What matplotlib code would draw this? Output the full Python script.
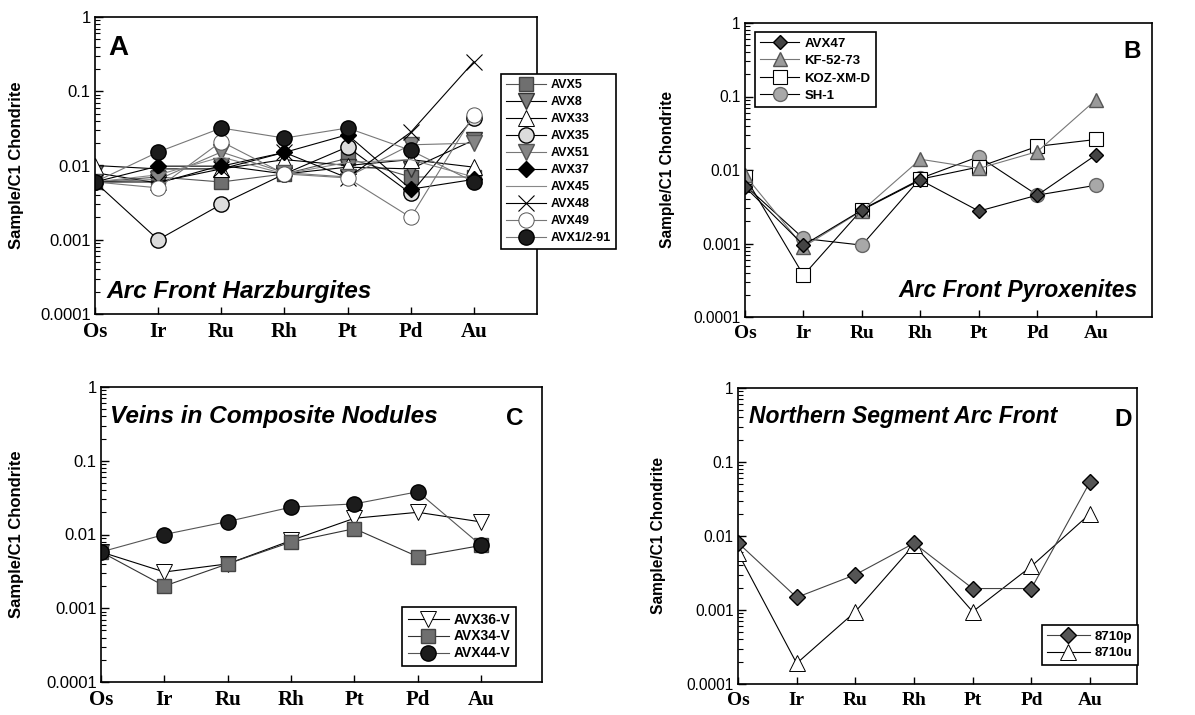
import matplotlib
matplotlib.use("Agg")
import matplotlib.pyplot as plt
from matplotlib.ticker import LogLocator, NullFormatter

W, H = 1195, 715

elements = ["Os", "Ir", "Ru", "Rh", "Pt", "Pd", "Au"]
yticks = [0.0001, 0.001, 0.01, 0.1, 1]
ytick_labels = ["0.0001", "0.001", "0.01", "0.1", "1"]

# A - arc front harzburgites
avx5 = [0.006, 0.007, 0.006, 0.0077, 0.0125, 0.007, 0.007]
avx8 = [0.008, 0.0058, 0.010, 0.0077, 0.0095, 0.009, 0.022]
avx33 = [0.010, 0.009, 0.009, 0.012, 0.010, 0.012, 0.0095]
avx35 = [0.006, 0.001, 0.003, 0.0077, 0.0178, 0.0042, 0.044]
avx51 = [0.006, 0.0065, 0.0152, 0.008, 0.007, 0.019, 0.020]
avx37 = [0.006, 0.0098, 0.0098, 0.015, 0.026, 0.0048, 0.0065]
avx45 = [0.006, 0.0075, 0.013, 0.0077, 0.011, 0.012, 0.007]
avx48 = [0.006, 0.006, 0.009, 0.015, 0.0068, 0.028, 0.25]
avx49 = [0.006, 0.005, 0.021, 0.0077, 0.0068, 0.002, 0.048]
avx1_2_91 = [0.006, 0.0152, 0.032, 0.0234, 0.032, 0.016, 0.006]

# B - arc front pyroxenites
avx47 = [0.0059, 0.00095, 0.00285, 0.0073, 0.00276, 0.00455, 0.016]
kf_52_73 = [0.0085, 0.0009, 0.0028, 0.014, 0.0105, 0.0178, 0.09]
koz_xm_d = [0.0081, 0.00037, 0.0029, 0.0075, 0.011, 0.021, 0.026]
sh_1 = [0.0062, 0.00117, 0.00095, 0.0077, 0.0152, 0.00455, 0.0062]

# C - veins in composite nodules
avx36_v = [0.0058, 0.0031, 0.004, 0.0083, 0.0166, 0.020, 0.0148]
avx34_v = [0.0058, 0.002, 0.004, 0.0079, 0.012, 0.005, 0.0071]
avx44_v = [0.0058, 0.010, 0.015, 0.0235, 0.026, 0.038, 0.0071]

# D - northern segment arc front
s8710p = [0.0081, 0.00148, 0.003, 0.008, 0.00195, 0.00195, 0.054]
s8710u = [0.0059, 0.00019, 0.00095, 0.0076, 0.00095, 0.0039, 0.020]

x = list(range(len(elements)))


def fx(px):
    return px / W


def fy(py):
    return 1 - py / H


def setup(ax, xmax, ylabel_x, big):
    # left-hand panels were printed a little larger than the right-hand ones
    k = 1.0 if big else 0.93
    ax.set_yscale("log")
    ax.set_ylim(1e-4, 1)
    ax.set_xlim(0, xmax)
    ax.set_yticks(yticks)
    ax.set_yticklabels(ytick_labels, fontsize=12 * k, family="Liberation Sans")
    ax.yaxis.set_minor_locator(LogLocator(base=10, subs=range(2, 10), numticks=20))
    ax.yaxis.set_minor_formatter(NullFormatter())
    ax.set_xticks(x)
    ax.set_xticklabels(elements, fontsize=15 * k, family="Liberation Serif",
                       fontweight="bold")
    ax.tick_params(axis="y", which="major", direction="in", length=6, width=1,
                   pad=3, right=False)
    ax.tick_params(axis="y", which="minor", direction="in", length=3.5, width=0.8,
                   right=False)
    ax.tick_params(axis="x", direction="in", length=5, width=1, pad=6, top=False)
    for s in ax.spines.values():
        s.set_linewidth(1.2)
    ax.set_ylabel("Sample/C1 Chondrite", fontsize=12 * k, fontweight="bold",
                  family="Liberation Sans")
    ax.yaxis.set_label_coords(ylabel_x, 0.5)


def legend(ax, handles, px, py, size, hl, spacing):
    leg = ax.legend(handles=handles, loc="upper left",
                    bbox_to_anchor=(fx(px), fy(py)), bbox_transform=fig.transFigure,
                    borderaxespad=0, fancybox=False, framealpha=1,
                    edgecolor="black", numpoints=1, handlelength=hl,
                    handletextpad=0.4, labelspacing=spacing, borderpad=0.4,
                    prop={"family": "Liberation Sans", "weight": "bold", "size": size})
    leg.get_frame().set_linewidth(1.2)
    leg.set_zorder(20)
    return leg


def title(px, py, s, size, **kw):
    fig.text(fx(px), fy(py), s, fontsize=size, fontweight="bold",
             fontstyle="italic", family="Liberation Sans", **kw)


def letter(px, py, s, size=17.5):
    fig.text(fx(px), fy(py), s, fontsize=size, fontweight="bold",
             family="Liberation Sans")


fig = plt.figure(figsize=(W / 100, H / 100), dpi=100)
la = dict(lw=0.8)

# ---------------- A
axA = fig.add_axes([fx(95), fy(314), fx(537) - fx(95), fy(17) - fy(314)])
setup(axA, 7.0, -0.161, True)
hA = []
hA += axA.plot(x, avx5, color="#555555", marker="s", ms=10.5, mfc="#6f6f6f", mec="#444444", label="AVX5", **la)
hA += axA.plot(x, avx8, color="black", marker="v", ms=11, mfc="#7a7a7a", mec="#333333", label="AVX8", **la)
hA += axA.plot(x, avx33, color="black", marker="^", ms=11, mfc="white", mec="black", mew=0.7, label="AVX33", **la)
hA += axA.plot(x, avx35, color="black", marker="o", ms=11, mfc="#dcdcdc", mec="black", label="AVX35", **la)
hA += axA.plot(x, avx51, color="#777777", marker="v", ms=11, mfc="#858585", mec="#555555", label="AVX51", **la)
hA += axA.plot(x, avx37, color="black", marker="D", ms=8, mfc="black", mec="black", label="AVX37", **la)
hA += axA.plot(x, avx45, color="#888888", label="AVX45", **la)
hA += axA.plot(x, avx48, color="black", marker="x", ms=11, mew=0.8, label="AVX48", **la)
hA += axA.plot(x, avx49, color="#777777", marker="o", ms=11, mfc="white", mec="#555555", mew=0.7, label="AVX49", **la)
hA += axA.plot(x, avx1_2_91, color="#777777", marker="o", ms=11, mfc="#1c1c1c", mec="black", label="AVX1/2-91", **la)
legend(axA, hA, 501, 74, 9, 3.2, 0.4)
letter(108, 55, "A", size=20)
title(106, 298, "Arc Front Harzburgites", 17.6)

# ---------------- B
axB = fig.add_axes([fx(745), fy(317), fx(1152) - fx(745), fy(23) - fy(317)])
setup(axB, 6.96, -0.172, False)
hB = []
hB += axB.plot(x, sh_1, color="black", marker="o", ms=10, mfc="#a8a8a8", mec="#666666", label="SH-1", **la)
hB += axB.plot(x, koz_xm_d, color="black", marker="s", ms=10, mfc="white", mec="black", mew=0.8, label="KOZ-XM-D", **la)
hB += axB.plot(x, kf_52_73, color="#777777", marker="^", ms=10.5, mfc="#9a9a9a", mec="#555555", label="KF-52-73", **la)
hB += axB.plot(x, avx47, color="black", marker="D", ms=7.5, mfc="#444444", mec="black", label="AVX47", **la)
legend(axB, hB[::-1], 755, 32, 9.5, 2.95, 0.4)
letter(1123, 58, "B")
title(1138, 297, "Arc Front Pyroxenites", 16.5, ha="right")

# ---------------- C
axC = fig.add_axes([fx(101), fy(682), fx(542) - fx(101), fy(387) - fy(682)])
setup(axC, 6.96, -0.175, True)
hC = []
hC += axC.plot(x, avx36_v, color="black", marker="v", ms=11, mfc="white", mec="black", mew=0.7, label="AVX36-V", **la)
hC += axC.plot(x, avx34_v, color="#333333", marker="s", ms=10.5, mfc="#6f6f6f", mec="#444444", label="AVX34-V", **la)
hC += axC.plot(x, avx44_v, color="#555555", marker="o", ms=11, mfc="#1c1c1c", mec="black", label="AVX44-V", **la)
legend(axC, hC, 402, 607, 10, 2.95, 0.21)
letter(506, 425, "C")
title(110, 423, "Veins in Composite Nodules", 17.6)

# ---------------- D
axD = fig.add_axes([fx(738), fy(684), fx(1137) - fx(738), fy(388) - fy(684)])
setup(axD, 6.8, -0.18, False)
hD = []
hD += axD.plot(x, s8710u, color="black", marker="^", ms=12, mfc="white", mec="black", mew=0.7, label="8710u", **la)
hD += axD.plot(x, s8710p, color="#444444", marker="D", ms=8.5, mfc="#555555", mec="black", label="8710p", **la)
legend(axD, hD[::-1], 1042, 625, 9.5, 3.2, 0.35)
letter(1114, 426, "D")
title(749, 423, "Northern Segment Arc Front", 16.5)

fig.savefig("out.png", dpi=100)
